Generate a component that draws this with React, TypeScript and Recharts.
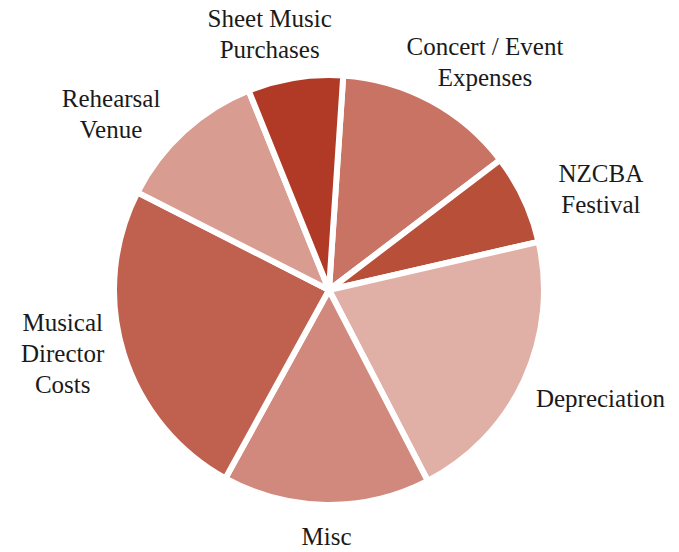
import { PieChart, Pie, Cell } from "recharts";

// clockwise from just right of 12 o'clock
const categories = [
  "Concert / Event Expenses",
  "NZCBA Festival",
  "Depreciation",
  "Misc",
  "Musical Director Costs",
  "Rehearsal Venue",
  "Sheet Music Purchases",
];
const labelLines = [
  ["Concert / Event", "Expenses"],
  ["NZCBA", "Festival"],
  ["Depreciation"],
  ["Misc"],
  ["Musical", "Director", "Costs"],
  ["Rehearsal", "Venue"],
  ["Sheet Music", "Purchases"],
];
const shares = [13.6, 6.75, 21.0, 15.6, 24.5, 11.4, 7.15];
const colors = ["#c87363", "#b84f38", "#e0b0a7", "#d0897c", "#c06150", "#d99c90", "#b03a25"];

const data = categories.map((name, i) => ({ name, value: shares[i] }));

const FONT = "'Liberation Serif', 'DejaVu Serif', serif";
const FONT_SIZE = 25;
const LINE_H = 31;
const R_VISIBLE = 212;
const LABEL_R = R_VISIBLE + 26;
// best-fit style tweaks, like a spreadsheet's label placement
const LABEL_NUDGE: Record<string, [number, number]> = {
  "Concert / Event Expenses": [6, 7],
  "NZCBA Festival": [18, 14],
  Depreciation: [-3, 6],
  Misc: [1, 0],
  "Musical Director Costs": [1, -16],
  "Rehearsal Venue": [-24, 22],
  "Sheet Music Purchases": [-12, 8],
};

let ctx: CanvasRenderingContext2D | null = null;
function textWidth(s: string) {
  if (!ctx) ctx = document.createElement("canvas").getContext("2d");
  if (!ctx) return s.length * FONT_SIZE * 0.45;
  ctx.font = `${FONT_SIZE}px ${FONT}`;
  return ctx.measureText(s).width;
}

function renderLabel(props: any) {
  const { cx, cy, midAngle } = props;
  const name = props.name ?? props.payload?.name;
  const idx = categories.indexOf(name);
  const lines = labelLines[idx] || [String(name)];
  const rad = (-midAngle * Math.PI) / 180;
  const ux = Math.cos(rad);
  const uy = Math.sin(rad);
  const w = Math.max(...lines.map(textWidth));
  const h = (lines.length - 1) * LINE_H + 22;
  const [nx, ny] = LABEL_NUDGE[name] || [0, 0];
  const bx = cx + LABEL_R * ux + (ux * w) / 2 + nx;
  const by = cy + LABEL_R * uy + (uy * h) / 2 + ny;
  const top = by - h / 2;
  return (
    <text
      key={`lbl-${idx}`}
      textAnchor="middle"
      fill="#1a1a1a"
      style={{ fontFamily: FONT, fontSize: FONT_SIZE }}
    >
      {lines.map((line, i) => (
        <tspan key={i} x={bx} y={top + 17 + i * LINE_H}>
          {line}
        </tspan>
      ))}
    </text>
  );
}

export default function App() {
  return (
    <div style={{ position: "absolute", left: 0, top: 0, background: "#fff" }}>
      <PieChart width={679} height={552} margin={{ top: 0, right: 0, bottom: 0, left: 0 }}>
        <Pie
          data={data}
          dataKey="value"
          nameKey="name"
          cx={329}
          cy={290}
          outerRadius={R_VISIBLE + 3}
          startAngle={86.2}
          endAngle={-273.8}
          stroke="#ffffff"
          strokeWidth={6}
          label={renderLabel}
          labelLine={false}
          isAnimationActive={false}
        >
          {data.map((d, i) => (
            <Cell key={d.name} fill={colors[i]} />
          ))}
        </Pie>
      </PieChart>
    </div>
  );
}
